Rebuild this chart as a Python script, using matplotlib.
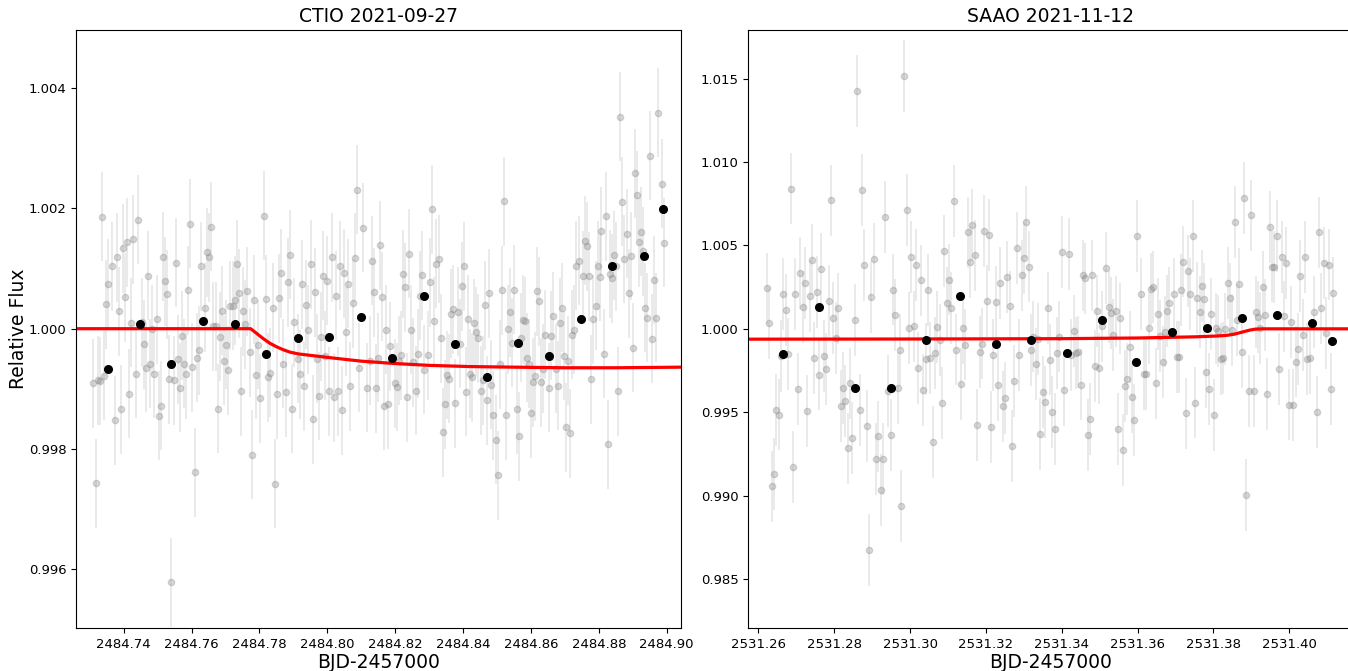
import matplotlib
matplotlib.use('Agg')
import matplotlib.pyplot as plt
from matplotlib.ticker import FormatStrFormatter

# ---------------- CTIO 2021-09-27 ----------------
ctio_time = [
    2484.73103, 2484.73172, 2484.73241, 2484.73300, 2484.73350, 2484.73419, 2484.73478, 2484.73537, 2484.73665, 2484.73734,
    2484.73793, 2484.73852, 2484.73921, 2484.73980, 2484.74039, 2484.74108, 2484.74167, 2484.74227, 2484.74286, 2484.74355,
    2484.74414, 2484.74542, 2484.74601, 2484.74660, 2484.74719, 2484.74778, 2484.74847, 2484.74906, 2484.74975, 2484.75034,
    2484.75094, 2484.75153, 2484.75212, 2484.75281, 2484.75340, 2484.75399, 2484.75468, 2484.75527, 2484.75586, 2484.75655,
    2484.75714, 2484.75773, 2484.75842, 2484.75901, 2484.75961, 2484.76020, 2484.76089, 2484.76148, 2484.76207, 2484.76266,
    2484.76394, 2484.76453, 2484.76522, 2484.76581, 2484.76640, 2484.76709, 2484.76768, 2484.76828, 2484.76897, 2484.76956,
    2484.77015, 2484.77074, 2484.77143,
    2484.77222, 2484.77281, 2484.77340, 2484.77399, 2484.77468, 2484.77527, 2484.77586, 2484.77645, 2484.77714, 2484.77773,
    2484.77842, 2484.77901, 2484.77961, 2484.78030, 2484.78148, 2484.78207, 2484.78266, 2484.78325, 2484.78394, 2484.78453,
    2484.78512, 2484.78581, 2484.78640, 2484.78699, 2484.78768, 2484.78828, 2484.78887, 2484.78946, 2484.79015, 2484.79133,
    2484.79192, 2484.79251, 2484.79320, 2484.79379, 2484.79438, 2484.79507, 2484.79566, 2484.79626, 2484.79685, 2484.79754,
    2484.79813, 2484.79872, 2484.79941, 2484.80000, 2484.80059, 2484.80128, 2484.80187, 2484.80246, 2484.80315, 2484.80374,
    2484.80433, 2484.80493, 2484.80562, 2484.80621, 2484.80680, 2484.80749, 2484.80808, 2484.80867, 2484.80936, 2484.81054,
    2484.81182, 2484.81251, 2484.81310, 2484.81369, 2484.81438, 2484.81497, 2484.81557, 2484.81616,
    2484.81665, 2484.81734, 2484.81793, 2484.81852, 2484.81980, 2484.82039, 2484.82099, 2484.82167, 2484.82227, 2484.82286,
    2484.82355, 2484.82414, 2484.82473, 2484.82532, 2484.82601, 2484.82660, 2484.82719, 2484.82778, 2484.82847, 2484.82965,
    2484.83034, 2484.83094, 2484.83153, 2484.83212, 2484.83281, 2484.83340, 2484.83399, 2484.83468, 2484.83527, 2484.83586,
    2484.83645, 2484.83714, 2484.83773, 2484.83842, 2484.83901, 2484.83961, 2484.84020, 2484.84089, 2484.84148, 2484.84207,
    2484.84266, 2484.84335, 2484.84394, 2484.84453, 2484.84522, 2484.84581, 2484.84640, 2484.84699, 2484.84768, 2484.84828,
    2484.84887, 2484.84956, 2484.85015, 2484.85074, 2484.85143, 2484.85202, 2484.85261, 2484.85330, 2484.85389, 2484.85448,
    2484.85507, 2484.85576, 2484.85635, 2484.85695, 2484.85754, 2484.85823, 2484.85882, 2484.85941, 2484.85995,
    2484.86049, 2484.86108, 2484.86167, 2484.86225, 2484.86294, 2484.86353, 2484.86412, 2484.86539, 2484.86598, 2484.86657,
    2484.86725, 2484.86784, 2484.86843, 2484.86902, 2484.86971, 2484.87029, 2484.87088, 2484.87157, 2484.87216, 2484.87275,
    2484.87333, 2484.87402, 2484.87520, 2484.87588, 2484.87647, 2484.87706, 2484.87775, 2484.87833, 2484.87902, 2484.87961,
    2484.88020, 2484.88078, 2484.88147, 2484.88206, 2484.88265, 2484.88324, 2484.88382, 2484.88451, 2484.88510, 2484.88569,
    2484.88637, 2484.88696, 2484.88755, 2484.88824, 2484.88882, 2484.88941, 2484.89010, 2484.89069, 2484.89127, 2484.89196,
    2484.89255, 2484.89314, 2484.89373, 2484.89431, 2484.89500, 2484.89559, 2484.89618, 2484.89686, 2484.89745, 2484.89863,
    2484.89931,
]
ctio_flux = [
    0.99909, 0.99743, 0.99914, 0.99913, 1.00186, 0.99922, 1.00041, 1.00075, 1.00104, 0.99848,
    1.00119, 1.00029, 0.99866, 1.00134, 1.00052, 1.00144, 0.99892, 1.00010, 1.00149, 0.99925,
    1.00181, 1.00011, 0.99974, 0.99935, 1.00088, 0.99942, 0.99999, 0.99925, 1.00016, 0.99855,
    0.99872, 1.00120, 1.00079, 1.00057, 0.99916, 0.99578, 0.99914, 1.00110, 0.99949, 0.99902,
    0.99988, 0.99942, 0.99924, 1.00064, 1.00175, 0.99936, 0.99761, 0.99952, 0.99964, 1.00104,
    1.00035, 1.00127, 1.00119, 1.00170, 1.00004, 1.00004, 0.99867, 0.99987, 1.00030, 0.99947,
    0.99973, 0.99931, 1.00038,
    1.00038, 1.00047, 1.00107, 1.00059, 0.99896, 1.00029, 1.00007, 1.00062, 0.99961, 0.99790,
    1.00048, 0.99923, 0.99973, 0.99884, 1.00188, 1.00049, 0.99919, 0.99927, 1.00035, 0.99742,
    0.99891, 1.00051, 1.00092, 0.99942, 0.99894, 1.00077, 1.00123, 0.99867, 1.00011, 0.99950,
    0.99924, 1.00074, 0.99904, 1.00040, 0.99998, 1.00107, 0.99849, 1.00061, 0.99950, 0.99888,
    0.99987, 1.00088, 0.99955, 1.00080, 0.99896, 1.00119, 0.99886, 1.00055, 0.99896, 1.00105,
    0.99864, 1.00092, 0.99995, 1.00075, 0.99904, 1.00042, 1.00118, 1.00231, 0.99935, 1.00168,
    0.99902, 0.99947, 1.00113, 1.00061, 0.99901, 0.99952, 1.00139, 1.00053,
    0.99872, 0.99998, 0.99874, 0.99971, 0.99909, 0.99903, 0.99947, 0.99956, 1.00091, 1.00069,
    0.99886, 1.00125, 0.99998, 0.99944, 0.99897, 0.99958, 1.00055, 1.00089, 0.99932, 0.99956,
    1.00077, 1.00199, 1.00012, 1.00108, 1.00116, 0.99984, 0.99828, 0.99874, 0.99923, 0.99917,
    1.00025, 1.00032, 0.99876, 1.00028, 0.99975, 1.00071, 1.00104, 0.99895, 1.00016, 0.99925,
    0.99919, 1.00009, 0.99995, 0.99984, 0.99897, 0.99914, 1.00039, 0.99881, 1.00059, 0.99907,
    0.99856, 0.99815, 0.99756, 0.99941, 1.00064, 1.00212, 0.99856, 0.99999, 1.00027, 0.99977,
    1.00065, 0.99866, 0.99821, 0.99985, 1.00015, 1.00012, 0.99952, 0.99942, 0.99859,
    0.99911, 0.99921, 1.00062, 1.00046, 0.99911, 0.99933, 0.99990, 0.99902, 0.99988, 1.00021,
    0.99933, 0.99905, 1.00010, 1.00035, 0.99955, 0.99836, 0.99947, 0.99826, 0.99990, 0.99998,
    1.00105, 1.00113, 1.00088, 1.00146, 1.00137, 1.00087, 0.99916, 1.00016, 1.00038, 1.00105,
    1.00086, 1.00162, 0.99958, 1.00187, 0.99808, 1.00091, 1.00084, 1.00122, 1.00104, 0.99896,
    1.00353, 1.00211, 1.00116, 1.00158, 1.00059, 1.00121, 0.99968, 1.00259, 1.00222, 1.00144,
    1.00161, 1.00129, 1.00035, 1.00018, 1.00288, 0.99983, 1.00081, 1.00018, 1.00359, 1.00241,
    1.00143,
]
ctio_err = 0.00074

ctio_bin_time = [2484.73537, 2484.74473, 2484.75399, 2484.76325, 2484.77281, 2484.78207, 2484.79123,
                 2484.80059, 2484.80995, 2484.81911, 2484.82847, 2484.83773, 2484.84700, 2484.85626,
                 2484.86542, 2484.87468, 2484.88394, 2484.89320, 2484.89882]
ctio_bin_flux = [0.99933, 1.00007, 0.99942, 1.00012, 1.00007, 0.99958, 0.99984, 0.99987, 1.00020,
                 0.99952, 1.00055, 0.99975, 0.99919, 0.99977, 0.99955, 1.00016, 1.00105, 1.00121, 1.00199]

ctio_model_time = [2484.7259, 2484.7774, 2484.7790, 2484.7810, 2484.7830, 2484.7850, 2484.7870,
                   2484.7890, 2484.7915, 2484.7960, 2484.8020, 2484.8100, 2484.8200, 2484.8300,
                   2484.8420, 2484.8550, 2484.8700, 2484.8850, 2484.9042]
ctio_model_flux = [1.00000, 1.00000, 0.99993, 0.99984, 0.99976, 0.99970, 0.99965,
                   0.99961, 0.99958, 0.99955, 0.99951, 0.99946, 0.99942, 0.99939,
                   0.99937, 0.99936, 0.99935, 0.99935, 0.99936]

# ---------------- SAAO 2021-11-12 ----------------
saao_time = [
    2531.26239, 2531.26292, 2531.26354, 2531.26416, 2531.26478, 2531.26540, 2531.26602, 2531.26664, 2531.26726, 2531.26788,
    2531.26850, 2531.26912, 2531.26974, 2531.27044, 2531.27106, 2531.27168, 2531.27230, 2531.27292, 2531.27354, 2531.27416,
    2531.27478, 2531.27540, 2531.27602, 2531.27664, 2531.27735, 2531.27797, 2531.27859, 2531.27920, 2531.27982, 2531.28044,
    2531.28106, 2531.28168, 2531.28230, 2531.28292, 2531.28354, 2531.28416, 2531.28478, 2531.28540, 2531.28611, 2531.28673,
    2531.28735, 2531.28797, 2531.28859, 2531.28921, 2531.28982, 2531.29053, 2531.29106, 2531.29168, 2531.29230, 2531.29292,
    2531.29354, 2531.29416, 2531.29487, 2531.29549, 2531.29611, 2531.29673, 2531.29744, 2531.29773, 2531.29835,
    2531.29912, 2531.29974, 2531.30035, 2531.30096, 2531.30158, 2531.30219, 2531.30289, 2531.30351, 2531.30412, 2531.30474,
    2531.30535, 2531.30596, 2531.30658, 2531.30719, 2531.30781, 2531.30842, 2531.30903, 2531.30965, 2531.31026, 2531.31087,
    2531.31149, 2531.31210, 2531.31333, 2531.31394, 2531.31456, 2531.31517, 2531.31579, 2531.31640, 2531.31710, 2531.31772,
    2531.31833, 2531.31894, 2531.31956, 2531.32017, 2531.32078, 2531.32140, 2531.32201, 2531.32263, 2531.32324, 2531.32385,
    2531.32447, 2531.32508, 2531.32570, 2531.32631, 2531.32692, 2531.32754, 2531.32824, 2531.32885, 2531.32947, 2531.33008,
    2531.33070, 2531.33131, 2531.33192, 2531.33254, 2531.33315, 2531.33376, 2531.33438, 2531.33499, 2531.33561, 2531.33631,
    2531.33692, 2531.33736,
    2531.33816, 2531.33877, 2531.33939, 2531.34009, 2531.34061, 2531.34193, 2531.34254, 2531.34316, 2531.34377, 2531.34439,
    2531.34500, 2531.34561, 2531.34623, 2531.34684, 2531.34745, 2531.34807, 2531.34868, 2531.34930, 2531.34991, 2531.35052,
    2531.35175, 2531.35237, 2531.35298, 2531.35359, 2531.35421, 2531.35482, 2531.35544, 2531.35605, 2531.35666, 2531.35728,
    2531.35789, 2531.35850, 2531.35912, 2531.35973, 2531.36096, 2531.36157, 2531.36219, 2531.36289, 2531.36350, 2531.36412,
    2531.36473, 2531.36535, 2531.36596, 2531.36657, 2531.36719, 2531.36780, 2531.36841, 2531.36964, 2531.37026, 2531.37087,
    2531.37148, 2531.37210, 2531.37271, 2531.37333, 2531.37394, 2531.37455, 2531.37517, 2531.37578, 2531.37640, 2531.37701,
    2531.37754, 2531.37816, 2531.37877, 2531.37947, 2531.38009, 2531.38070, 2531.38132, 2531.38193, 2531.38254, 2531.38316,
    2531.38377, 2531.38439, 2531.38500, 2531.38561, 2531.38623, 2531.38684, 2531.38745, 2531.38807, 2531.38868, 2531.38930,
    2531.38991, 2531.39061, 2531.39114, 2531.39175, 2531.39237, 2531.39298, 2531.39359, 2531.39421, 2531.39482, 2531.39544,
    2531.39605, 2531.39666, 2531.39736, 2531.39798, 2531.39859, 2531.39921, 2531.39982, 2531.40043, 2531.40105, 2531.40166,
    2531.40228, 2531.40289, 2531.40350, 2531.40412, 2531.40473, 2531.40535, 2531.40657, 2531.40719, 2531.40780, 2531.40841,
    2531.40903, 2531.40964, 2531.41034, 2531.41096, 2531.41157,
]
saao_flux = [
    1.00242, 1.00037, 0.99055, 0.99131, 0.99512, 0.99486, 0.99836, 1.00210, 1.00111, 0.99850,
    1.00841, 0.99171, 1.00210, 0.99641, 1.00334, 1.00131, 1.00276, 0.99507, 1.00196, 1.00415,
    0.99827, 1.00221, 0.99726, 1.00357, 0.99839, 0.99758, 1.00168, 1.00770, 1.00067, 0.99945,
    1.00122, 0.99539, 0.99645, 0.99567, 0.99283, 0.99673, 0.99346, 1.00055, 1.01428, 0.99512,
    1.00832, 1.00382, 0.99419, 0.98673, 1.00189, 1.00419, 0.99219, 0.99355, 0.99035, 0.99219,
    1.00670, 0.99627, 0.99364, 1.00235, 1.00085, 0.99645, 0.99871, 0.98936, 1.01518,
    1.00712, 1.00007, 1.00429, 1.00014, 1.00382, 0.99767, 1.00290, 0.99634, 0.99820, 1.00233,
    0.99827, 0.99323, 0.99857, 1.00009, 0.99935, 0.99555, 1.00468, 1.00154, 1.00295, 1.00124,
    1.00765, 0.99876, 0.99668, 1.00005, 0.99906, 1.00578, 1.00401, 1.00624, 1.00440, 0.99424,
    0.99859, 0.99912, 1.00588, 1.00168, 1.00562, 0.99410, 0.99841, 1.00161, 0.99664, 1.00276,
    0.99535, 0.99585, 1.00309, 1.00134, 0.99297, 0.99689, 1.00486, 0.99841, 1.00320, 1.00424,
    1.00641, 1.00373, 0.99873, 0.99954, 0.99788, 0.99938, 0.99371, 0.99620, 0.99562, 1.00124,
    0.99816, 0.99502,
    0.99399, 0.99853, 0.99954, 1.00461, 0.99634, 1.00447, 0.99841, 0.99988, 0.99853, 0.99859,
    0.99666, 1.00320, 1.00302, 0.99362, 0.99461, 1.00320, 0.99777, 1.00108, 0.99763, 1.00014,
    1.00366, 1.00129, 1.00097, 0.99963, 1.00104, 0.99401, 1.00062, 0.99272, 0.99659, 0.99698,
    0.99892, 0.99590, 0.99454, 1.00558, 1.00210, 0.99730, 0.99730, 1.00007, 1.00240, 1.00251,
    0.99673, 1.00090, 0.99956, 0.99800, 0.99984, 1.00108, 1.00157, 1.00210, 0.99832, 0.99830,
    1.00233, 1.00403, 0.99493, 1.00346, 1.00210, 1.00558, 0.99558, 1.00187, 1.00101, 1.00256,
    1.00177, 0.99742, 0.99641, 1.00088, 0.99484, 1.00002, 0.99988, 0.99818, 0.99825, 0.99998,
    1.00276, 1.00182, 0.99995, 1.00641, 1.00053, 1.00270, 0.99862, 1.00783, 0.99002, 0.99629,
    1.00680, 0.99629, 1.00101, 1.00069, 1.00005, 1.00251, 1.00083, 0.99608, 1.00611, 1.00373,
    1.00369, 1.00555, 0.99760, 1.00431, 1.00074, 1.00396, 0.99546, 1.00039, 0.99542, 0.99804,
    0.99880, 1.00316, 0.99961, 1.00431, 0.99820, 0.99825, 1.00099, 0.99502, 1.00578, 1.00122,
    1.00396, 0.99975, 1.00385, 0.99641, 1.00217,
]
saao_err = 0.00215

saao_bin_time = [2531.2666, 2531.2760, 2531.2854, 2531.2949, 2531.3041, 2531.3133, 2531.3226,
                 2531.3319, 2531.3413, 2531.3505, 2531.3597, 2531.3690, 2531.3782, 2531.3875,
                 2531.3968, 2531.4060, 2531.4112]
saao_bin_flux = [0.99850, 1.00131, 0.99645, 0.99645, 0.99935, 1.00196, 0.99912, 0.99935, 0.99853,
                 1.00055, 0.99804, 0.99984, 1.00002, 1.00067, 1.00083, 1.00035, 0.99929]

saao_model_time = [2531.2574, 2531.3000, 2531.3400, 2531.3600, 2531.3750, 2531.3810, 2531.3835,
                   2531.3855, 2531.3875, 2531.3895, 2531.3910, 2531.3930, 2531.4169]
saao_model_flux = [0.99938, 0.99939, 0.99941, 0.99945, 0.99952, 0.99957, 0.99961,
                   0.99968, 0.99980, 0.99992, 0.99998, 1.00000, 1.00000]

# ---------------- figure ----------------
W, H = 1348, 671
fig = plt.figure(figsize=(W / 100, H / 100), dpi=100)
ax1 = fig.add_axes([76 / W, 43 / H, 605 / W, 598 / H])
ax2 = fig.add_axes([748.3 / W, 43 / H, 605 / W, 598 / H])


def draw(ax, t, f, err, bt, bf, mt, mf, title, xlim, ylim, xticks, yticks, yfmt):
    n = min(len(t), len(f))
    eb = ax.errorbar(t[:n], f[:n], yerr=err, fmt='o', color='gray', alpha=0.3,
                     ms=4.5, elinewidth=1.3, capsize=0, zorder=1)
    for coll in eb[2]:
        coll.set_alpha(0.18)
    ax.plot(mt, mf, '-', color='red', lw=2.3, zorder=2)
    m = min(len(bt), len(bf))
    ax.plot(bt[:m], bf[:m], 'o', color='black', ms=5.5, zorder=3)
    ax.set_xlim(*xlim)
    ax.set_ylim(*ylim)
    ax.set_xticks(xticks)
    ax.set_yticks(yticks)
    ax.xaxis.set_major_formatter(FormatStrFormatter('%.2f'))
    ax.yaxis.set_major_formatter(FormatStrFormatter(yfmt))
    ax.tick_params(labelsize=9.5)
    ax.set_title(title, fontsize=13.5)
    ax.set_xlabel('BJD-2457000', fontsize=13.5, labelpad=1.5)


draw(ax1, ctio_time, ctio_flux, ctio_err, ctio_bin_time, ctio_bin_flux,
     ctio_model_time, ctio_model_flux, 'CTIO 2021-09-27',
     (2484.72595, 2484.90421), (0.99502, 1.00497),
     [2484.74, 2484.76, 2484.78, 2484.80, 2484.82, 2484.84, 2484.86, 2484.88, 2484.90],
     [0.996, 0.998, 1.000, 1.002, 1.004], '%.3f')
ax1.set_ylabel('Relative Flux', fontsize=13.5, labelpad=0)

draw(ax2, saao_time, saao_flux, saao_err, saao_bin_time, saao_bin_flux,
     saao_model_time, saao_model_flux, 'SAAO 2021-11-12',
     (2531.25737, 2531.41687), (0.98206, 1.01792),
     [2531.26, 2531.28, 2531.30, 2531.32, 2531.34, 2531.36, 2531.38, 2531.40],
     [0.985, 0.990, 0.995, 1.000, 1.005, 1.010, 1.015], '%.3f')

fig.savefig('out.png', dpi=100)
